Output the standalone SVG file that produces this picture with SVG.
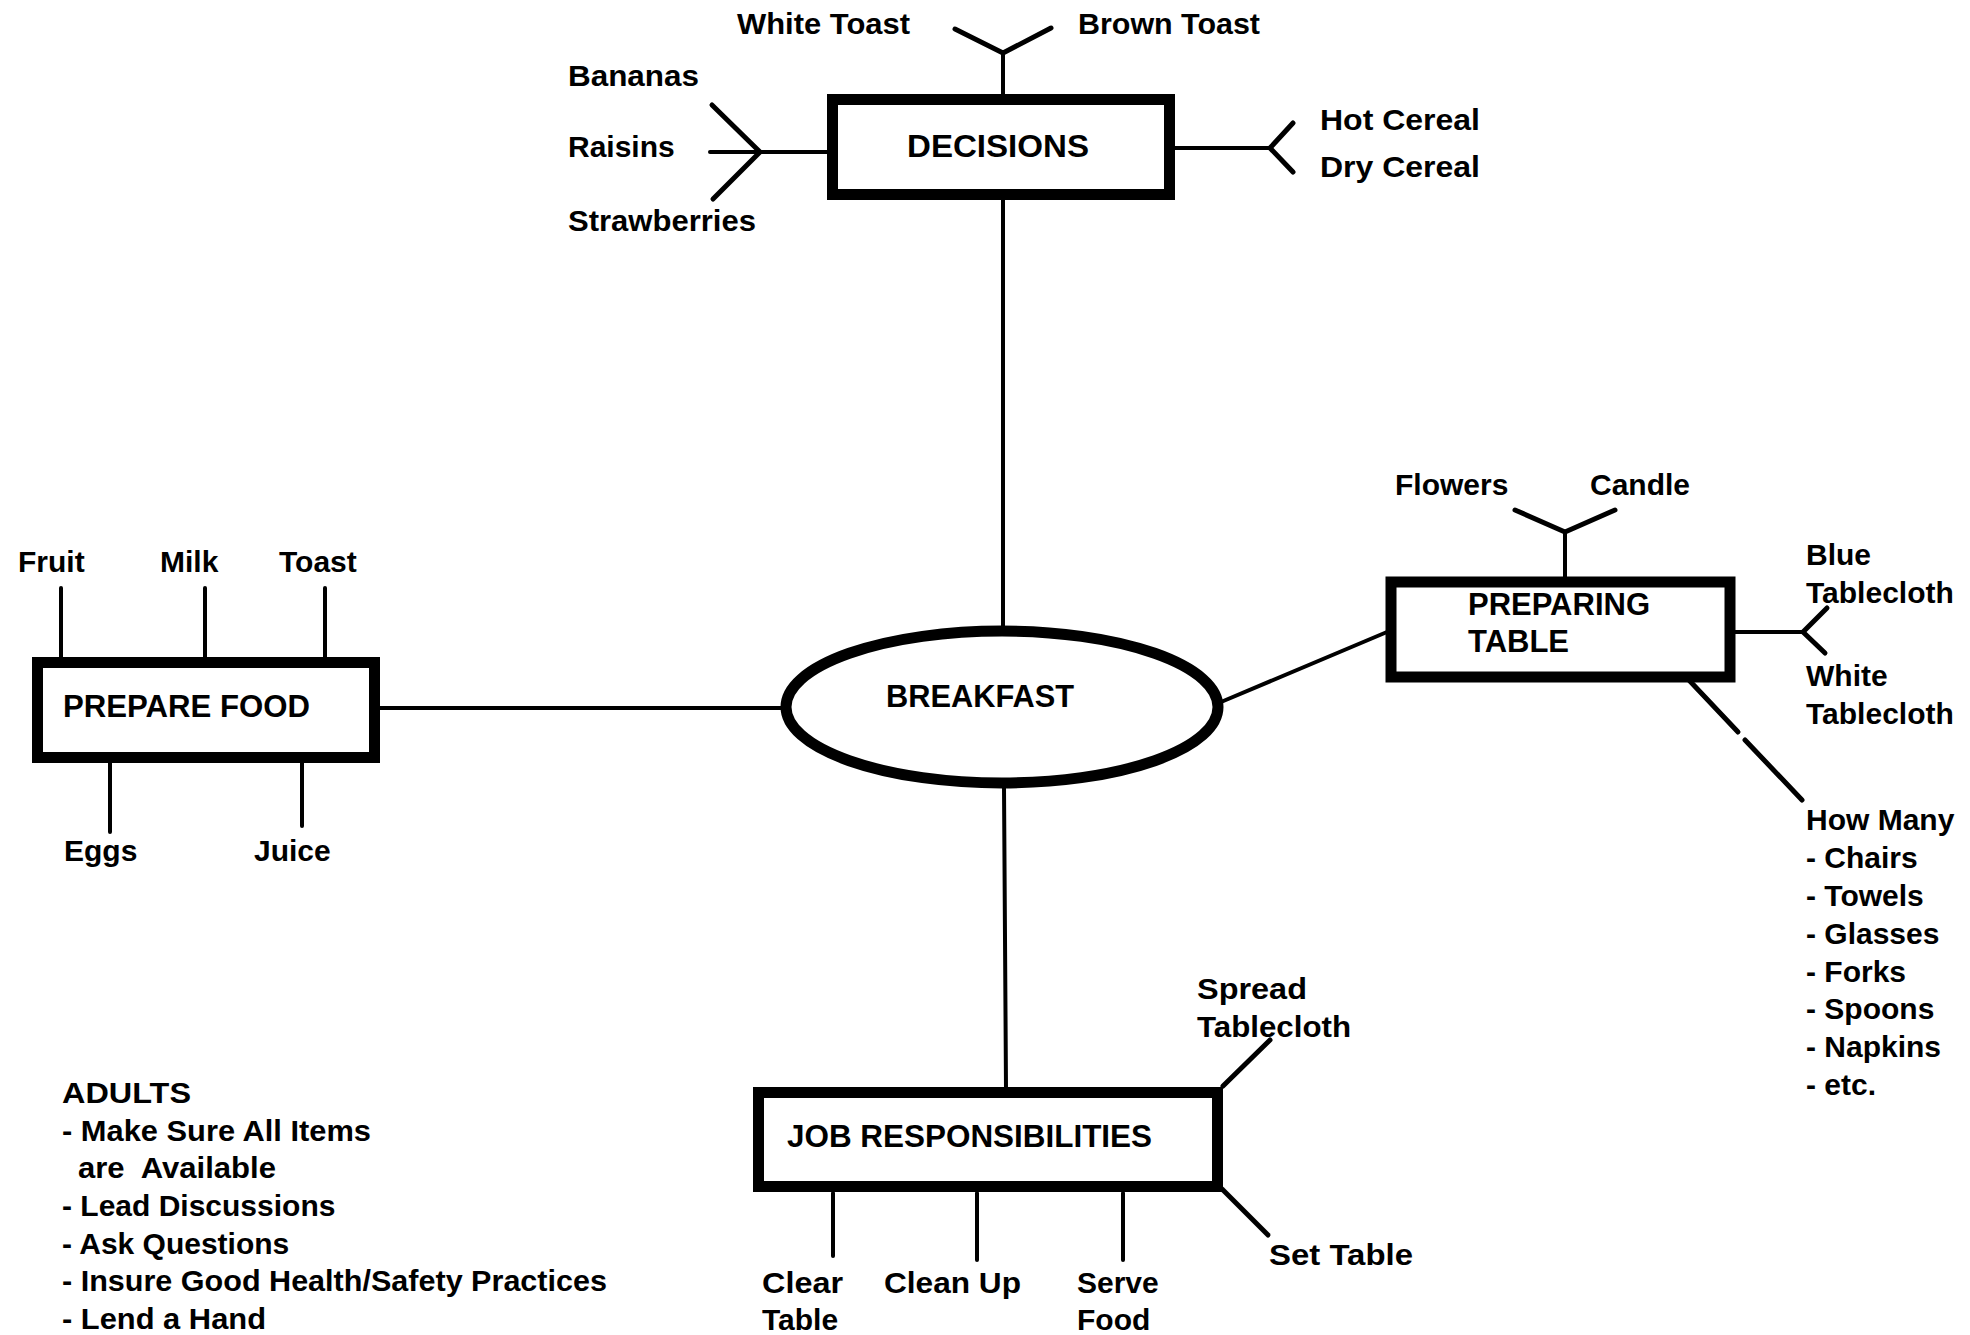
<svg xmlns="http://www.w3.org/2000/svg" width="1970" height="1335" viewBox="0 0 1970 1335">
  <style>
    .bg { fill: #ffffff; }
    .box { fill: #ffffff; stroke: #000000; stroke-width: 11; }
    .ln { fill: none; stroke: #000000; stroke-width: 4; stroke-linecap: round; stroke-linejoin: round; }
    .lnb { fill: none; stroke: #000000; stroke-width: 5; stroke-linecap: round; stroke-linejoin: round; }
    .t { font-family: "Liberation Sans", Arial, Helvetica, sans-serif; font-weight: bold; font-size: 30px; fill: #000000; }
    .h { font-family: "Liberation Sans", Arial, Helvetica, sans-serif; font-weight: bold; font-size: 31px; fill: #000000; }
  </style>
  <rect class="bg" x="0" y="0" width="1970" height="1335"/>

  <!-- connectors -->
  <g id="connectors">
    <!-- hub spokes -->
    <line class="ln" x1="1003" y1="200" x2="1003" y2="627"/>
    <line class="ln" x1="378" y1="708" x2="782" y2="708"/>
    <line class="ln" x1="1221" y1="702" x2="1387" y2="632"/>
    <line class="ln" x1="1004" y1="787" x2="1006" y2="1088"/>

    <!-- DECISIONS branches -->
    <polyline class="ln" points="1003,94 1003,53"/>
    <polyline class="lnb" points="955,29 1003,53 1051,28"/>
    <polyline class="ln" points="827,152 710,152"/>
    <polyline class="lnb" points="712,105 760,152 713,199"/>
    <polyline class="ln" points="1175,148 1270,148"/>
    <polyline class="lnb" points="1293,123 1270,148 1293,172"/>

    <!-- PREPARE FOOD branches -->
    <line class="ln" x1="61" y1="588" x2="61" y2="657"/>
    <line class="ln" x1="205" y1="588" x2="205" y2="657"/>
    <line class="ln" x1="325" y1="588" x2="325" y2="657"/>
    <line class="ln" x1="110" y1="763" x2="110" y2="832"/>
    <line class="ln" x1="302" y1="763" x2="302" y2="826"/>

    <!-- PREPARING TABLE branches -->
    <line class="ln" x1="1565" y1="577" x2="1565" y2="532"/>
    <polyline class="lnb" points="1515,510 1565,532 1615,510"/>
    <line class="ln" x1="1735" y1="632" x2="1803" y2="632"/>
    <polyline class="lnb" points="1827,608 1803,632 1825,653"/>
    <line class="lnb" x1="1687" y1="678" x2="1738" y2="732"/>
    <line class="lnb" x1="1745" y1="740" x2="1802" y2="800"/>

    <!-- JOB RESPONSIBILITIES branches -->
    <line class="lnb" x1="1223" y1="1086" x2="1270" y2="1040"/>
    <line class="lnb" x1="1222" y1="1189" x2="1268" y2="1235"/>
    <line class="ln" x1="833" y1="1193" x2="833" y2="1256"/>
    <line class="ln" x1="977" y1="1193" x2="977" y2="1260"/>
    <line class="ln" x1="1123" y1="1193" x2="1123" y2="1260"/>
  </g>

  <!-- central topic -->
  <g id="breakfast">
    <ellipse class="box" cx="1002" cy="707" rx="216" ry="76"/>
    <text class="h" x="886" y="707" textLength="188" lengthAdjust="spacingAndGlyphs">BREAKFAST</text>
  </g>

  <g id="decisions">
    <rect class="box" x="832.5" y="99.5" width="337" height="95"/>
    <text class="h" x="907" y="157" textLength="182" lengthAdjust="spacingAndGlyphs">DECISIONS</text>
  </g>

  <g id="prepare-food">
    <rect class="box" x="37.5" y="662.5" width="337" height="95"/>
    <text class="h" x="63" y="717" textLength="247" lengthAdjust="spacingAndGlyphs">PREPARE FOOD</text>
  </g>

  <g id="preparing-table">
    <rect class="box" x="1391" y="582" width="339" height="95"/>
    <text class="h" x="1468" y="615">PREPARING</text>
    <text class="h" x="1468" y="652">TABLE</text>
  </g>

  <g id="job-responsibilities">
    <rect class="box" x="758.5" y="1092.5" width="459" height="94"/>
    <text class="h" x="787" y="1147" textLength="365" lengthAdjust="spacingAndGlyphs">JOB RESPONSIBILITIES</text>
  </g>

  <!-- leaf labels: DECISIONS -->
  <g id="decisions-options">
    <text class="t" x="737" y="34" textLength="173" lengthAdjust="spacingAndGlyphs">White Toast</text>
    <text class="t" x="1078" y="34" textLength="182" lengthAdjust="spacingAndGlyphs">Brown Toast</text>
    <text class="t" x="568" y="86" textLength="131" lengthAdjust="spacingAndGlyphs">Bananas</text>
    <text class="t" x="568" y="157">Raisins</text>
    <text class="t" x="568" y="231" textLength="188" lengthAdjust="spacingAndGlyphs">Strawberries</text>
    <text class="t" x="1320" y="130" textLength="160" lengthAdjust="spacingAndGlyphs">Hot Cereal</text>
    <text class="t" x="1320" y="177" textLength="160" lengthAdjust="spacingAndGlyphs">Dry Cereal</text>
  </g>

  <!-- leaf labels: PREPARE FOOD -->
  <g id="prepare-food-items">
    <text class="t" x="18" y="572">Fruit</text>
    <text class="t" x="160" y="572">Milk</text>
    <text class="t" x="279" y="572">Toast</text>
    <text class="t" x="64" y="861">Eggs</text>
    <text class="t" x="254" y="861">Juice</text>
  </g>

  <!-- leaf labels: PREPARING TABLE -->
  <g id="preparing-table-items">
    <text class="t" x="1395" y="495">Flowers</text>
    <text class="t" x="1590" y="495">Candle</text>
    <text class="t" x="1806" y="565">Blue</text>
    <text class="t" x="1806" y="603">Tablecloth</text>
    <text class="t" x="1806" y="686">White</text>
    <text class="t" x="1806" y="724">Tablecloth</text>
  </g>

  <g id="how-many">
    <text class="t" x="1806" y="830">How Many</text>
    <text class="t" x="1806" y="868">- Chairs</text>
    <text class="t" x="1806" y="906">- Towels</text>
    <text class="t" x="1806" y="944">- Glasses</text>
    <text class="t" x="1806" y="982">- Forks</text>
    <text class="t" x="1806" y="1019">- Spoons</text>
    <text class="t" x="1806" y="1057">- Napkins</text>
    <text class="t" x="1806" y="1095">- etc.</text>
  </g>

  <!-- leaf labels: JOB RESPONSIBILITIES -->
  <g id="job-items">
    <text class="t" x="1197" y="999" textLength="110" lengthAdjust="spacingAndGlyphs">Spread</text>
    <text class="t" x="1197" y="1037" textLength="154" lengthAdjust="spacingAndGlyphs">Tablecloth</text>
    <text class="t" x="1269" y="1265" textLength="144" lengthAdjust="spacingAndGlyphs">Set Table</text>
    <text class="t" x="762" y="1293" textLength="81" lengthAdjust="spacingAndGlyphs">Clear</text>
    <text class="t" x="762" y="1330">Table</text>
    <text class="t" x="884" y="1293" textLength="137" lengthAdjust="spacingAndGlyphs">Clean Up</text>
    <text class="t" x="1077" y="1293">Serve</text>
    <text class="t" x="1077" y="1330">Food</text>
  </g>

  <!-- adults' role notes -->
  <g id="adults">
    <text class="t" x="62" y="1103" textLength="129" lengthAdjust="spacingAndGlyphs">ADULTS</text>
    <text class="t" x="62" y="1141" textLength="309" lengthAdjust="spacingAndGlyphs">- Make Sure All Items</text>
    <text class="t" x="78" y="1178" xml:space="preserve" textLength="198" lengthAdjust="spacingAndGlyphs">are  Available</text>
    <text class="t" x="62" y="1216">- Lead Discussions</text>
    <text class="t" x="62" y="1254">- Ask Questions</text>
    <text class="t" x="62" y="1291" textLength="545" lengthAdjust="spacingAndGlyphs">- Insure Good Health/Safety Practices</text>
    <text class="t" x="62" y="1329" textLength="204" lengthAdjust="spacingAndGlyphs">- Lend a Hand</text>
  </g>
</svg>
